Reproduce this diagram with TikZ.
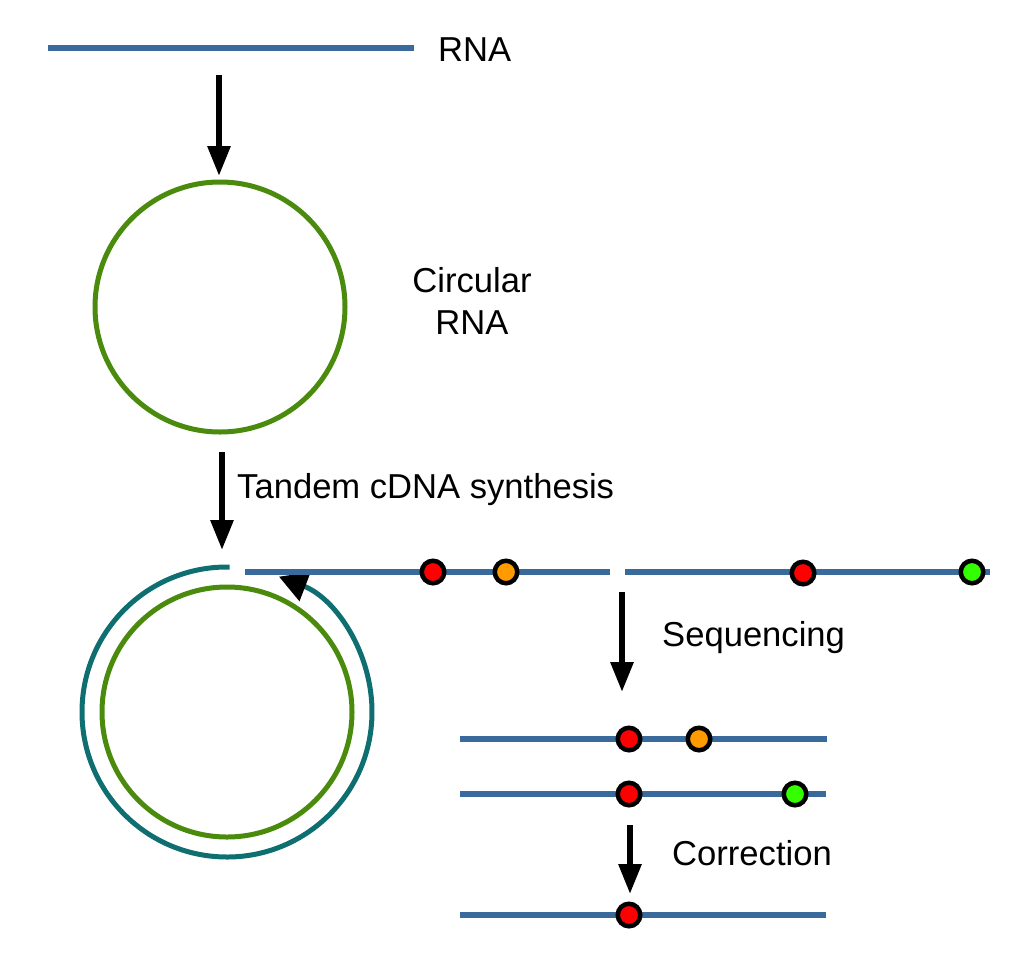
\documentclass[tikz,border=0pt]{standalone}
\usepackage{fontspec}
\setmainfont{Liberation Sans}
\usetikzlibrary{arrows.meta}
\definecolor{strand}{HTML}{3A6A9C}
\definecolor{circ}{HTML}{4A8A0C}
\definecolor{cdna}{HTML}{0E6E70}
\definecolor{dred}{HTML}{FF0000}
\definecolor{dorange}{HTML}{FF9A00}
\definecolor{dgreen}{HTML}{33FF00}
\tikzset{
  strandline/.style={draw=strand, line width=5.5pt},
  flowarrow/.style={line width=6pt, -{Triangle[length=30pt,width=22pt]}},
  snp/.style={circle, draw=black, line width=4.5pt, minimum size=22.5pt, inner sep=0pt},
  lbl/.style={font=\fontsize{34.6}{41.5}\selectfont, inner sep=0pt},
}
\begin{document}
\begin{tikzpicture}[x=1pt,y=-1pt]
\useasboundingbox (0,0) rectangle (1024,974);
% RNA
\coordinate (rnaL) at (48,48);
\coordinate (rnaR) at (414,48);
\draw[strandline] (rnaL) -- (rnaR);
\node[lbl, anchor=west] (rnalbl) at (438,50) {RNA};
% arrow 1
\coordinate (a1s) at (219,75);
\coordinate (a1e) at (219,176);
\draw[flowarrow] (a1s) -- (a1e);
% circle 1
\coordinate (c1) at (220,307);
\draw[circ, line width=5pt] (c1) circle[radius=125];
\node[lbl, align=center] (circlbl) at (472,301) {Circular\\RNA};
% arrow 2
\coordinate (a2s) at (222,452);
\coordinate (a2e) at (222,550);
\draw[flowarrow] (a2s) -- (a2e);
\node[lbl, anchor=west] (tandem) at (237,490) {Tandem cDNA synthesis};
% bottom circles
\coordinate (c2) at (227,712);
\draw[circ, line width=5pt] (c2) circle[radius=125];
\draw[cdna, line width=5pt, -{Triangle[length=28pt,width=30pt,color=black,fill=black]}] ([shift={(-89:145)}]c2) arc[start angle=-89, end angle=-429, radius=145];
% long cDNA strand
\coordinate (l1a) at (245,572);
\coordinate (l1b) at (610,572);
\coordinate (l1c) at (625,572);
\coordinate (l1d) at (990,572);
\draw[strandline] (l1a) -- (l1b);
\draw[strandline] (l1c) -- (l1d);
\node[snp, fill=dred] (s1) at (433,572) {};
\node[snp, fill=dorange] (s2) at (506,572) {};
\node[snp, fill=dred] (s3) at (803,573) {};
\node[snp, fill=dgreen] (s4) at (972,572) {};
% arrow 3
\coordinate (a3s) at (622,592);
\coordinate (a3e) at (622,692);
\draw[flowarrow] (a3s) -- (a3e);
\node[lbl, anchor=west] (seq) at (662,638) {Sequencing};
% reads
\coordinate (r1a) at (460,739);
\coordinate (r1b) at (827,739);
\draw[strandline] (r1a) -- (r1b);
\node[snp, fill=dred] (r1s1) at (629,739) {};
\node[snp, fill=dorange] (r1s2) at (699,739) {};
\coordinate (r2a) at (460,794);
\coordinate (r2b) at (826,794);
\draw[strandline] (r2a) -- (r2b);
\node[snp, fill=dred] (r2s1) at (629,794) {};
\node[snp, fill=dgreen] (r2s2) at (795,794) {};
% arrow 4
\coordinate (a4s) at (630,825);
\coordinate (a4e) at (630,894);
\draw[flowarrow] (a4s) -- (a4e);
\node[lbl, anchor=west] (corr) at (672,853) {Correction};
% corrected
\coordinate (r3a) at (460,915);
\coordinate (r3b) at (826,915);
\draw[strandline] (r3a) -- (r3b);
\node[snp, fill=dred] (r3s1) at (629,915) {};
\end{tikzpicture}
\end{document}
